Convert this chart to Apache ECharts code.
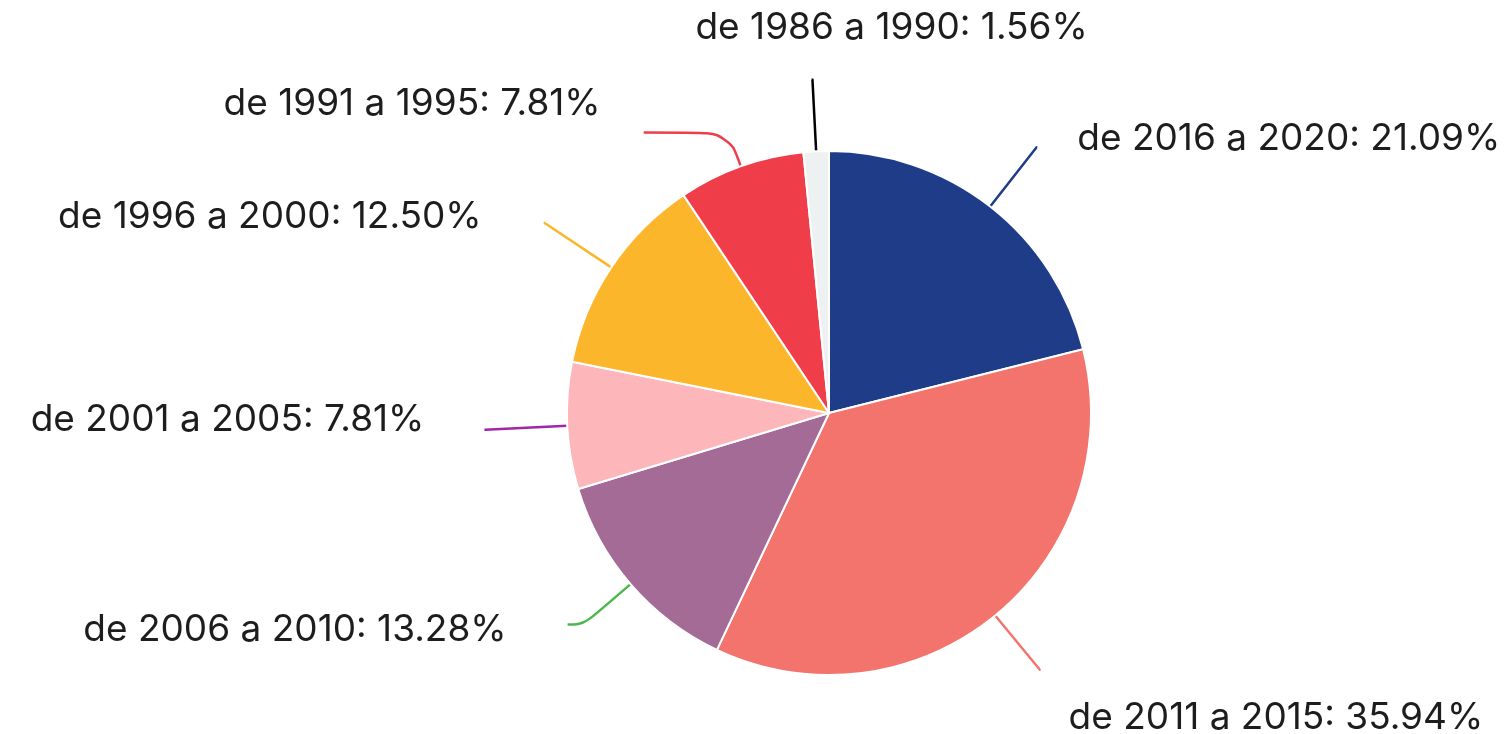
<!DOCTYPE html>
<html>
<head>
<meta charset="utf-8">
<script src="https://cdn.jsdelivr.net/npm/echarts@6/dist/echarts.min.js"></script>
<style>
  html, body { margin: 0; padding: 0; background: #fff; }
  #pieYears { width: 1511px; height: 734px; }
</style>
</head>
<body>
<div id="pieYears"></div>
<script>
// categorias (sentido horário a partir do topo)
var names = [
  "de 2016 a 2020",
  "de 2011 a 2015",
  "de 2006 a 2010",
  "de 2001 a 2005",
  "de 1996 a 2000",
  "de 1991 a 1995",
  "de 1986 a 1990"
];
var values = [21.09, 35.94, 13.28, 7.81, 12.5, 7.81, 1.56];
var sliceColors = ["#1e3c87", "#f2746d", "#a36b95", "#fdb6ba", "#fbb62b", "#ef3e4a", "#edf1f1"];
var lineColors = ["#1e3c87", "#f2746d", "#4cb84c", "#a325ad", "#fbb62b", "#ef3e4a", "#000000"];

// formato das linhas e deslocamento do texto em relação ao fim da linha
var lineLen = [75, 70, 62, 82, 80, 36, 72];
var lineLen2 = [1, 1, 16, 1, 1, 85, 1];
var labelShift = [
  { dx: 40, dy: -8, align: "left" },
  { dx: 28, dy: 48, align: "left" },
  { dx: -61, dy: 5, align: "right" },
  { dx: -60, dy: -10, align: "right" },
  { dx: -62, dy: -6, align: "right" },
  { dx: -43, dy: -29, align: "right" },
  { dx: 80, dy: -52, align: "center" }
];

var chart = echarts.init(document.getElementById("pieYears"));

var data = names.map(function (n, i) {
  return {
    name: n,
    value: values[i],
    itemStyle: { color: sliceColors[i] },
    labelLine: {
      length: lineLen[i],
      length2: lineLen2[i],
      lineStyle: { color: lineColors[i] }
    }
  };
});

var option = {
  animation: false,
  series: [
    {
      type: "pie",
      center: [829, 413],
      radius: 262,
      startAngle: 90,
      clockwise: true,
      avoidLabelOverlap: false,
      minShowLabelAngle: 0,
      itemStyle: {
        borderColor: "#fff",
        borderWidth: 2
      },
      label: {
        show: true,
        formatter: function (p) {
          return p.name + ": " + p.value.toFixed(2) + "%";
        },
        color: "#1d1d1d",
        fontFamily: "Inter",
        fontSize: 37
      },
      labelLine: {
        show: true,
        smooth: 0.4,
        lineStyle: { width: 2.5 }
      },
      labelLayout: function (params) {
        var pts = params.labelLinePoints;
        if (!pts) return {};
        var end = pts[pts.length - 1];
        var s = labelShift[params.dataIndex];
        return {
          x: end[0] + s.dx,
          y: end[1] + s.dy,
          align: s.align,
          verticalAlign: "middle",
          labelLinePoints: pts
        };
      },
      data: data
    }
  ]
};
chart.setOption(option);
</script>
</body>
</html>
